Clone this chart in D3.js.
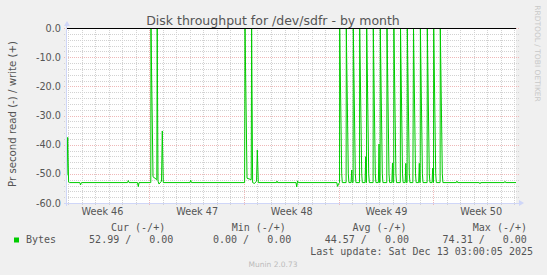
<!DOCTYPE html>
<meta charset="utf-8">
<style>
body { margin: 0; background: #f0f0f0; }
svg { display: block; font-family: "DejaVu Sans", sans-serif; }
.legend text { font-family: "DejaVu Sans Mono", monospace; font-size: 10px; fill: #555; white-space: pre; }
</style>
<body>
<script src="https://cdn.jsdelivr.net/npm/d3@7"></script>
<script>
var width = 547, height = 275;
var margin = {top: 28, right: 31, bottom: 72, left: 67};

// days are counted from Mon 10 Nov 2025 00:00
var baseDay = Date.UTC(2025, 10, 10);

// read throughput (drawn negative), [day, value]
var readSeries = [
  [0.915, -50.5], [0.967, -37.5], [1.033, -52.8], [1.100, -53.0],
  [1.870, -53.0], [1.913, -53.8], [1.987, -53.0],
  [5.389, -53.0], [5.448, -52.3], [5.500, -53.0],
  [6.128, -53.0], [6.187, -54.4], [6.239, -53.0],
  [7.111, -53.0], [7.126, 0], [7.274, -51.0], [7.555, -52.0], [7.585, 0],
  [7.644, -52.5], [7.718, -53.5], [7.903, -52.5], [7.962, -35.3], [8.036, -53.0],
  [10.010, -53.0], [10.062, -52.2], [10.114, -53.0],
  [14.048, -53.0], [14.078, 0], [14.226, -51.5], [14.536, -52.0], [14.566, 0],
  [14.640, -53.0], [14.781, -53.3], [14.929, -52.5], [14.988, -41.8], [15.062, -53.0],
  [16.408, -53.0], [16.445, -52.5], [16.482, -53.0],
  [17.850, -53.0], [17.902, -54.5], [17.961, -52.4], [18.020, -53.0],
  [20.866, -53.0], [20.918, -54.3], [20.992, -53.5], [21.066, -53.0],
  [21.079, 0], [21.227, -50], [21.272, -53],
  [21.552, -53], [21.567, 0], [21.715, -50], [21.760, -53],
  [21.920, -53], [21.967, -48.7], [22.005, -53],
  [22.070, -53], [22.085, 0], [22.233, -50], [22.278, -53],
  [22.543, -53], [22.558, 0], [22.706, -50], [22.751, -53],
  [22.955, -53], [23.002, -44.1], [23.040, -53],
  [23.061, -53], [23.076, 0], [23.224, -50], [23.269, -53],
  [23.549, -53], [23.564, 0], [23.712, -50], [23.757, -53],
  [23.938, -53], [23.985, -39.8], [24.023, -53],
  [24.066, -53], [24.081, 0], [24.229, -50], [24.274, -53],
  [24.562, -53], [24.577, 0], [24.725, -50], [24.770, -53],
  [24.936, -53], [24.983, -46.3], [25.021, -53],
  [25.072, -53], [25.087, 0], [25.235, -50], [25.280, -53],
  [25.560, -53], [25.575, 0], [25.723, -50], [25.768, -53],
  [25.920, -53], [25.967, -46.4], [26.005, -53],
  [26.063, -53], [26.078, 0], [26.226, -50], [26.271, -53],
  [26.490, -53], [26.536, 0], [26.684, -50], [26.729, -53],
  [26.918, -53], [26.965, -46.4], [27.003, -53],
  [27.031, -53], [27.046, 0], [27.194, -50], [27.239, -53],
  [27.542, -53], [27.557, 0], [27.705, -50], [27.750, -53],
  [27.909, -53], [27.956, -48.0], [27.994, -53],
  [28.015, -53], [28.030, 0], [28.178, -50], [28.223, -53],
  [28.503, -53], [28.518, 0], [28.666, -50], [28.711, -53],
  [29.700, -53], [29.753, -52.5], [29.800, -53],
  [31.400, -53], [31.454, -53.4], [31.500, -53],
  [33.250, -53], [33.302, -52.6], [33.350, -53],
  [34.115, -52.99]
];

var yTicks = [0, -10, -20, -30, -40, -50, -60];
var statHeads = ["Cur (-/+)", "Min (-/+)", "Avg (-/+)", "Max (-/+)"];
var readStats = [52.99, 0.00, 44.57, 74.31];
var writeStats = [0.00, 0.00, 0.00, 0.00];
var lastUpdate = "Last update: Sat Dec 13 03:00:05 2025";

function toDate(day) { return new Date(baseDay + day * 864e5); }
function px(v) { return Math.round(v) + 0.5; }

var x = d3.scaleUtc()
    .domain(d3.extent(readSeries, function(d) { return toDate(d[0]); }))
    .range([margin.left, width - margin.right]);
var y = d3.scaleLinear().domain([-60, 0]).range([height - margin.bottom, margin.top]);

var x0 = x.range()[0], x1 = x.range()[1];
var y0 = y.range()[0], y1 = y.range()[1];

var svg = d3.select("body").append("svg")
    .attr("width", width)
    .attr("height", height);

svg.append("rect").attr("width", width).attr("height", height).attr("fill", "#f0f0f0");
svg.append("rect")
    .attr("x", x0).attr("y", y1)
    .attr("width", x1 - x0).attr("height", y0 - y1)
    .attr("fill", "#fff");

// grid
var days = d3.utcDay.range(x.domain()[0], x.domain()[1]);
var weeks = d3.utcMonday.range(x.domain()[0], x.domain()[1]);
var minorDays = days.filter(function(d) { return d.getUTCDay() != 1; });
var minorY = d3.range(-58, 0, 2).filter(function(v) { return v % 10 != 0; });

var grid = svg.append("g").attr("fill", "none").attr("stroke-width", 1);

grid.selectAll(".vminor").data(minorDays).enter().append("line")
    .attr("x1", function(d) { return px(x(d)); }).attr("x2", function(d) { return px(x(d)); })
    .attr("y1", y1).attr("y2", y0 + 3)
    .attr("stroke", "#d2d2d2").attr("stroke-dasharray", "1,1");
grid.selectAll(".hminor").data(minorY).enter().append("line")
    .attr("y1", function(d) { return px(y(d)); }).attr("y2", function(d) { return px(y(d)); })
    .attr("x1", x0 - 3).attr("x2", x1 + 3)
    .attr("stroke", "#d2d2d2").attr("stroke-dasharray", "1,1");
grid.selectAll(".vmajor").data(weeks).enter().append("line")
    .attr("x1", function(d) { return px(x(d)); }).attr("x2", function(d) { return px(x(d)); })
    .attr("y1", y1).attr("y2", y0 + 3)
    .attr("stroke", "#efb8b8").attr("stroke-dasharray", "1,1");
grid.selectAll(".hmajor").data(yTicks).enter().append("line")
    .attr("y1", function(d) { return px(y(d)); }).attr("y2", function(d) { return px(y(d)); })
    .attr("x1", x0 - 3).attr("x2", x1 + 3)
    .attr("stroke", "#efb8b8").attr("stroke-dasharray", "1,1");

// data line
var line = d3.line()
    .x(function(d) { return x(toDate(d[0])); })
    .y(function(d) { return y(d[1]); });

svg.append("path")
    .datum(readSeries)
    .attr("d", line)
    .attr("fill", "none")
    .attr("stroke", "#00cc00")
    .attr("stroke-width", 1);

// zero rule
svg.append("line")
    .attr("x1", x0).attr("x2", x1)
    .attr("y1", px(y(0))).attr("y2", px(y(0)))
    .attr("stroke", "#000");

// axes lines + arrows
svg.append("line").attr("x1", px(x0) - 1).attr("x2", px(x0) - 1)
    .attr("y1", y0 + 3).attr("y2", y1 - 4).attr("stroke", "#cfd6f8");
svg.append("line").attr("x1", x0 - 3).attr("x2", x1 + 4)
    .attr("y1", px(y0)).attr("y2", px(y0)).attr("stroke", "#cfd6f8");
svg.append("path").attr("fill", "#cfd6f8")
    .attr("d", "M" + (x0 - 3) + "," + (y1 - 2) + "L" + (x0 + 3) + "," + (y1 - 2) + "L" + x0 + "," + (y1 - 7) + "Z");
svg.append("path").attr("fill", "#cfd6f8")
    .attr("d", "M" + (x1 + 3) + "," + (y0 - 3) + "L" + (x1 + 3) + "," + (y0 + 3) + "L" + (x1 + 8) + "," + y0 + "Z");

// y axis labels
var yAxis = svg.append("g")
    .attr("transform", "translate(" + x0 + ",0)")
    .call(d3.axisLeft(y).tickValues(yTicks).tickSize(0).tickPadding(6)
        .tickFormat(function(d) { return d.toFixed(1); }));
yAxis.select(".domain").remove();
yAxis.selectAll("text")
    .attr("font-family", "DejaVu Sans").attr("font-size", 9.7).attr("fill", "#555");

// x axis labels, centred in each week
var labelWeeks = d3.utcMonday.range(d3.utcMonday.floor(x.domain()[0]), x.domain()[1])
    .map(function(d) { return d3.utcHour.offset(d, 84); })
    .filter(function(d) { return d > x.domain()[0] && d < x.domain()[1]; });
var xAxis = svg.append("g")
    .attr("transform", "translate(0," + y0 + ")")
    .call(d3.axisBottom(x).tickValues(labelWeeks).tickSize(0).tickPadding(5)
        .tickFormat(d3.utcFormat("Week %V")));
xAxis.select(".domain").remove();
xAxis.selectAll("text")
    .attr("font-family", "DejaVu Sans").attr("font-size", 9.7).attr("fill", "#555");

// titles
svg.append("text")
    .attr("x", 273).attr("y", 24.5)
    .attr("text-anchor", "middle")
    .attr("font-size", 12.5).attr("fill", "#555")
    .text("Disk throughput for /dev/sdfr - by month");

svg.append("text")
    .attr("transform", "translate(15.5,114) rotate(-90)")
    .attr("text-anchor", "middle")
    .attr("font-size", 10.2).attr("fill", "#555")
    .text("Pr second read (-) / write (+)");

svg.append("text")
    .attr("transform", "translate(534.5,53.5) rotate(90)")
    .attr("text-anchor", "middle")
    .attr("font-size", 7.5).attr("fill", "#c8c8c8")
    .text("RRDTOOL / TOBI OETIKER");

// legend
var legend = svg.append("g").attr("class", "legend");
var headX = [111, 231.7, 352.4, 472.8];
var valEnd = [173.4, 291.3, 409, 526.9];

legend.append("rect").attr("x", 14).attr("y", 237.5).attr("width", 5).attr("height", 5).attr("fill", "#00cc00");
legend.append("text").attr("x", 26).attr("y", 242.5).text("Bytes");

legend.selectAll(".head").data(statHeads).enter().append("text")
    .attr("x", function(d, i) { return headX[i]; })
    .attr("y", 230.5)
    .text(function(d) { return d; });

legend.selectAll(".val").data(readStats).enter().append("text")
    .attr("x", function(d, i) { return valEnd[i]; })
    .attr("y", 242.5)
    .attr("text-anchor", "end")
    .text(function(d, i) { return d.toFixed(2) + " /" + writeStats[i].toFixed(2).padStart(7); });

legend.append("text")
    .attr("x", 533).attr("y", 254.5)
    .attr("text-anchor", "end")
    .text(lastUpdate);

svg.append("text")
    .attr("x", 273).attr("y", 267)
    .attr("text-anchor", "middle")
    .attr("font-size", 7.5).attr("fill", "#bbb")
    .text("Munin 2.0.73");
</script>
</body>
